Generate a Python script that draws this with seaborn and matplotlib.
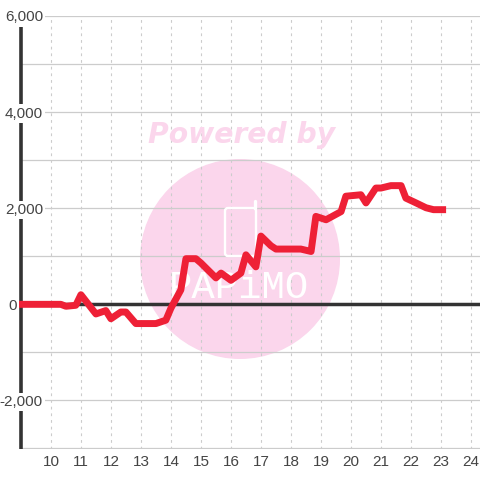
import matplotlib
matplotlib.use("Agg")
import matplotlib.pyplot as plt
from matplotlib.patches import Circle, FancyBboxPatch
from matplotlib.transforms import Affine2D, blended_transform_factory
import pandas as pd
import seaborn as sns

# time of day (hours) and cumulative value
hours = [8.88, 10, 10.33, 10.5, 10.83, 11, 11.5, 11.83, 12.0, 12.33, 12.5, 12.83,
         13.5, 13.83, 14.0, 14.33, 14.5, 14.83, 15.0, 15.5, 15.67, 16.0, 16.33,
         16.5, 16.83, 17.0, 17.33, 17.5, 18.33, 18.67, 18.83, 19.17, 19.67,
         19.83, 20.33, 20.5, 20.83, 21.0, 21.33, 21.67, 21.83, 22.17, 22.5,
         22.75, 23.17]
values = [0, 0, 0, -40, -20, 200, -200, -130, -300, -160, -160, -400,
          -400, -330, -80, 300, 950, 950, 860, 550, 650, 500, 650,
          1030, 780, 1420, 1220, 1150, 1150, 1100, 1830, 1760, 1930,
          2250, 2280, 2110, 2420, 2420, 2470, 2470, 2210, 2110, 2010,
          1970, 1970]
xticks = list(range(10, 25))
ygrid = [-3000, -2000, -1000, 0, 1000, 2000, 3000, 4000, 5000, 6000]
yticks = [-2000, 0, 2000, 4000, 6000]
ytick_labels = ["-2,000", "0", "2,000", "4,000", "6,000"]

plt.rcParams["font.family"] = ["Liberation Sans", "DejaVu Sans"]

df = pd.DataFrame({"hour": hours, "value": values})

fig = plt.figure(figsize=(4.8, 4.8), dpi=100)
ax = fig.add_axes([20 / 480, 1 - 448.5 / 480, 460 / 480, 432.5 / 480])
ax.set_xlim(8.97, 24.3)
ax.set_ylim(-3000, 6000)
ax.set_facecolor("white")

# watermark, placed in pixels of the figure (y down)
px = Affine2D().scale(1, -1).translate(0, 480)
pink = "#fbd6ec"
ax.add_patch(Circle((240, 259), 100, transform=px, color=pink, lw=0, zorder=0.5))
ax.text(242, 135, "Powered by", transform=px, color=pink, fontsize=20.3,
        family="DejaVu Sans", weight="bold", style="italic", ha="center", va="center", zorder=0.6)

# grid
ax.set_yticks(ygrid)
ax.set_xticks(xticks)
ax.grid(axis="y", color="#cccccc", lw=0.9, zorder=1)
ax.grid(axis="x", color="#cccccc", lw=0.8, ls=(0, (2.5, 3.5)), zorder=1)
ax.set_axisbelow(True)

# white logo over the grid
ax.add_patch(FancyBboxPatch((225, 208), 31, 48, boxstyle="round,pad=0,rounding_size=3", transform=px,
                            fc="none", ec="white", lw=1.7, zorder=1.5))
ax.plot([255, 255], [208, 201], transform=px, color="white", lw=2.4, zorder=1.5, solid_capstyle="round")
ax.text(239, 288, "PAPiMO", transform=px, color="white", fontsize=28, family="Liberation Mono",
        ha="center", va="center", zorder=1.5)

ax.axhline(0, color="#333333", lw=2.5, zorder=2)

sns.lineplot(data=df, x="hour", y="value", ax=ax, color="#ee2036", lw=5.0, zorder=4,
             solid_joinstyle="round", solid_capstyle="butt", errorbar=None, clip_on=False)

for s in ["top", "right", "bottom", "left"]:
    ax.spines[s].set_visible(False)
ax.plot([20.5, 20.5], [24, 448.5], transform=px, color="#333333", lw=2.6, solid_capstyle="butt",
        zorder=3, clip_on=False)

ax.set_xlabel("")
ax.set_ylabel("")
ax.tick_params(axis="both", length=0)
ax.tick_params(axis="x", labelsize=11, labelcolor="#444444", pad=5)
ax.set_yticklabels([])

# y labels sit over the axis line on a white box; the 0 stays left of the axis
label_tf = blended_transform_factory(px, ax.transData)
for v, lab in zip(yticks, ytick_labels):
    ax.text(16.5 if v == 0 else 43, v, lab, transform=label_tf, ha="right", va="center_baseline",
            fontsize=11, color="#444444", zorder=5, clip_on=False,
            bbox=dict(fc="white", ec="none", pad=1.5))

fig.savefig("out.png", dpi=100)
